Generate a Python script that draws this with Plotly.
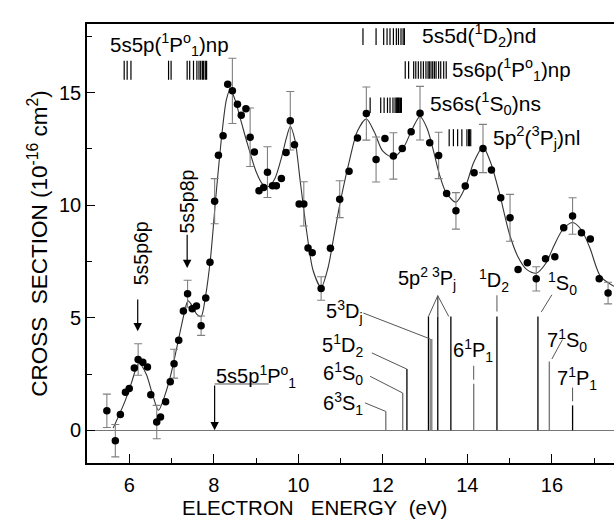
import plotly.graph_objects as go

# ---------------- data ----------------
energy = [5.47, 5.67, 5.79, 5.91, 6.00, 6.12, 6.21, 6.32, 6.43, 6.51, 6.65, 6.74, 6.86, 6.97,
          7.06, 7.17, 7.28, 7.38, 7.49, 7.59, 7.70, 7.81, 7.91, 8.02, 8.11, 8.22, 8.33, 8.44,
          8.56, 8.65, 8.76, 8.86, 8.96, 9.07, 9.18, 9.27, 9.39, 9.48, 9.60, 9.71, 9.81, 9.91,
          10.02, 10.13, 10.23, 10.33, 10.54, 10.76, 10.98, 11.20, 11.40, 11.61, 11.84, 12.05,
          12.25, 12.46, 12.67, 12.88, 13.11, 13.32, 13.51, 13.73, 13.95, 14.16, 14.37, 14.57,
          14.79, 15.01, 15.20, 15.42, 15.63, 15.85, 16.07, 16.28, 16.49, 16.70, 16.91, 17.12, 17.33]
cross = [0.87, -0.46, 0.70, 1.69, 1.86, 2.77, 3.15, 3.03, 2.81, 1.58, 0.37, 0.59, 1.27, 2.16,
         2.96, 4.00, 5.30, 6.07, 5.40, 5.52, 4.65, 5.88, 7.47, 10.18, 12.22, 13.09, 15.37, 15.08,
         14.49, 14.00, 14.28, 13.02, 12.36, 10.64, 10.79, 11.47, 10.86, 10.86, 11.19, 12.34, 13.75, 12.69,
         10.05, 10.06, 8.10, 7.89, 6.30, 8.09, 10.27, 11.51, 12.99, 14.07, 12.03, 12.96,
         12.19, 12.52, 13.26, 14.09, 12.77, 12.21, 10.52, 9.75, 10.85, 11.44, 12.52, 11.57,
         10.33, 9.44, 7.15, 7.45, 6.73, 7.62, 7.71, 9.00, 9.52, 8.78, 8.50, 6.73, 6.10]
error = [0.74, 0.72, None, None, None, None, 0.70, None, None, None, 0.74, None, None, None,
         0.64, None, None, 0.60, None, None, 0.43, None, None, 1.00, None, None, None, 1.45,
         None, None, None, 1.30, None, None, None, 1.13, None, None, None, None, 1.30, None,
         None, 0.98, None, None, 0.52, None, 0.82, None, None, 1.18, 1.00, None,
         1.03, None, None, 1.19, None, 1.03, None, 0.81, None, None, 1.07, None,
         None, 1.04, None, None, 0.54, None, None, None, 0.81, None, None, None, 0.48]

fit_x = [5.62, 5.90, 6.05, 6.23, 6.40, 6.55, 6.69, 6.85, 7.00, 7.15, 7.30, 7.39, 7.50, 7.60, 7.70,
         7.80, 7.92, 8.05, 8.20, 8.30, 8.39, 8.50, 8.65, 8.80, 9.00, 9.15, 9.30, 9.45, 9.60, 9.72,
         9.81, 9.92, 10.05, 10.20, 10.35, 10.54, 10.70, 10.85, 11.00, 11.20, 11.40, 11.61, 11.80,
         12.00, 12.25, 12.50, 12.70, 12.88, 13.05, 13.20, 13.35, 13.50, 13.73, 13.95, 14.15, 14.37,
         14.55, 14.75, 15.00, 15.20, 15.40, 15.63, 15.85, 16.05, 16.25, 16.49, 16.70, 16.90, 17.15, 17.47]
fit_y = [0.10, 1.30, 2.10, 2.99, 2.50, 1.60, 0.89, 1.60, 2.60, 3.90, 5.20, 5.75, 5.50, 5.15, 5.06,
         5.90, 7.60, 10.40, 13.30, 14.70, 15.15, 14.70, 13.70, 12.70, 11.50, 10.95, 10.83, 11.20, 12.10, 13.00,
         13.50, 12.90, 11.00, 8.80, 7.10, 6.35, 7.20, 8.70, 10.20, 11.90, 13.30, 13.83, 13.25,
         12.40, 12.13, 12.60, 13.40, 13.94, 13.40, 12.40, 11.30, 10.55, 10.14, 10.80, 11.90, 12.58,
         11.90, 10.60, 8.70, 7.70, 7.15, 6.98, 7.40, 8.20, 8.90, 9.23, 8.90, 8.10, 6.84, 6.40]

# Rydberg series markers (eV)
ser_5s5p_np = [5.88, 5.95, 6.04, 6.93, 6.99, 7.37, 7.43, 7.52, 7.60, 7.65, 7.69, 7.73, 7.76, 7.80, 7.83]
ser_5s5d_nd = [11.53, 11.84, 12.02, 12.10, 12.17, 12.25, 12.32, 12.37, 12.43, 12.48, 12.51]
ser_5s6p_np = [12.53, 12.61, 12.73, 12.78, 12.84, 12.90, 12.96, 13.02, 13.07, 13.10, 13.14, 13.18,
               13.22, 13.26, 13.32, 13.37, 13.44, 13.50]
ser_5s6s_ns = [11.70, 11.95, 12.03, 12.11, 12.17, 12.24, 12.29, 12.32, 12.35, 12.37, 12.39, 12.42, 12.44]
ser_5p2_nl = [13.57, 13.67, 13.77, 13.87, 13.99, 14.03, 14.05, 14.08]

# atomic levels (eV)
lvl_black = [12.57, 13.08, 13.30, 13.61, 14.70, 15.67, 16.49]
lvl_gray = [12.07, 12.47, 13.14, 14.15, 15.94]
threshold_5s5p = 8.02

# ---------------- figure ----------------
FONT = "Liberation Sans, Arial, sans-serif"
fig = go.Figure()

# series tick groups
def add_bars(xs, y0, y1, width=1.2):
    bx, by = [], []
    for v in xs:
        bx += [v, v, None]
        by += [y0, y1, None]
    fig.add_trace(go.Scatter(x=bx, y=by, mode="lines", line=dict(color="black", width=width),
                             hoverinfo="skip", showlegend=False))

add_bars(ser_5s5p_np, 15.57, 16.42)
add_bars(ser_5s5d_nd, 17.12, 17.86)
add_bars(ser_5s6p_np, 15.62, 16.40)
add_bars(ser_5s6s_ns, 14.10, 14.78)
add_bars(ser_5p2_nl, 12.62, 13.38)

# level lines
lvl_top = {12.57: 2.72, 13.08: 5.06, 13.30: 5.06, 13.61: 5.06, 14.70: 5.06, 15.67: 5.06, 16.49: 1.11,
           12.07: 0.84, 12.47: 1.66, 13.14: 4.06, 14.15: 2.07, 15.94: 3.06}
def add_levels(xs, color, width):
    bx, by = [], []
    for v in xs:
        bx += [v, v, None]
        by += [0, lvl_top[v], None]
    fig.add_trace(go.Scatter(x=bx, y=by, mode="lines", line=dict(color=color, width=width),
                             hoverinfo="skip", showlegend=False))

add_levels(lvl_gray, "#7a7a7a", 1.4)
add_levels(lvl_black, "black", 1.3)
# thick gray 5^3D_j band
fig.add_trace(go.Scatter(x=[13.14, 13.14], y=[0, 4.06], mode="lines",
                         line=dict(color="#8a8a8a", width=3), hoverinfo="skip", showlegend=False))

# leader lines for level labels
leaders = [
    ([11.54, 13.12], [5.21, 4.06]),
    ([11.74, 12.57], [3.44, 2.72]),
    ([11.70, 12.47], [2.40, 1.66]),
    ([11.58, 12.07], [1.22, 0.84]),
    ([13.08, 13.30, 13.30, 13.30, 13.56], [5.06, 5.98, 5.06, 5.98, 5.06]),
    ([14.70, 14.70], [6.00, 5.28]),
    ([14.15, 14.15], [2.87, 2.25]),
    ([16.00, 15.75], [6.02, 5.26]),
    ([16.25, 16.00], [4.03, 3.17]),
    ([16.49, 16.49], [1.90, 1.29]),
    ([threshold_5s5p, 9.30], [2.06, 2.06]),
]
for lx, ly in leaders:
    fig.add_trace(go.Scatter(x=lx, y=ly, mode="lines", line=dict(color="#555555", width=1),
                             hoverinfo="skip", showlegend=False))

# fit curve
fig.add_trace(go.Scatter(x=fit_x, y=fit_y, mode="lines", line=dict(color="#333333", width=1.1, shape="spline", smoothing=0.8),
                         hoverinfo="skip", showlegend=False))

# error bars
ex = [e for e, s in zip(energy, error) if s is not None]
ey = [c for c, s in zip(cross, error) if s is not None]
es = [s for s in error if s is not None]
fig.add_trace(go.Scatter(x=ex, y=ey, mode="markers", marker=dict(size=1, opacity=0),
                         error_y=dict(type="data", array=es, visible=True, color="#808080", thickness=1.1, width=4),
                         hoverinfo="skip", showlegend=False))

# data points
fig.add_trace(go.Scatter(x=energy, y=cross, mode="markers",
                         marker=dict(color="black", size=7.5, line=dict(width=0)), showlegend=False))

# ---------------- annotations ----------------
def txt(x, y, s, size=19, xanchor="left", yanchor="middle", angle=0):
    fig.add_annotation(x=x, y=y, xref="x", yref="y", text=s, showarrow=False, xanchor=xanchor,
                       yanchor=yanchor, textangle=angle, font=dict(family=FONT, size=size, color="black"))

txt(5.50, 17.12, "5s5p(<sup>1</sup>P<sup>o</sup><sub>1</sub>)np", size=20.5)
txt(12.88, 17.52, "5s5d(<sup>1</sup>D<sub>2</sub>)nd", size=21)
txt(13.59, 16.05, "5s6p(<sup>1</sup>P<sup>o</sup><sub>1</sub>)np", size=20.5)
txt(13.07, 14.50, "5s6s(<sup>1</sup>S<sub>0</sub>)ns", size=21)
txt(14.56, 13.00, "5p<sup>2</sup>(<sup>3</sup>P<sub>j</sub>)nl", size=21)

txt(11.58, 5.28, "5<sup>3</sup>D<sub>j</sub>", xanchor="right", size=20)
txt(11.58, 3.77, "5<sup>1</sup>D<sub>2</sub>", xanchor="right", size=20)
txt(11.58, 2.52, "6<sup>1</sup>S<sub>0</sub>", xanchor="right", size=20)
txt(11.58, 1.20, "6<sup>3</sup>S<sub>1</sub>", xanchor="right", size=20)
txt(13.04, 6.75, "5p<sup>2 3</sup>P<sub>j</sub>", xanchor="center", size=20)
txt(14.64, 6.65, "<sup>1</sup>D<sub>2</sub>", xanchor="center", size=20)
txt(14.14, 3.55, "6<sup>1</sup>P<sub>1</sub>", xanchor="center", size=20)
txt(16.24, 6.52, "<sup>1</sup>S<sub>0</sub>", xanchor="center", size=20)
txt(16.36, 4.00, "7<sup>1</sup>S<sub>0</sub>", xanchor="center", size=20)
txt(16.60, 2.30, "7<sup>1</sup>P<sub>1</sub>", xanchor="center", size=20)
txt(8.00, 2.38, "5s5p<sup>1</sup>P<sup>o</sup><sub>1</sub>", size=20)

txt(6.27, 7.85, "5s5p6p", angle=-90, xanchor="center", size=19.5)
txt(7.36, 10.15, "5s5p8p", angle=-90, xanchor="center", size=19.5)

def arrow(x, y_tail, y_head):
    fig.add_annotation(x=x, y=y_head, ax=x, ay=y_tail, xref="x", yref="y", axref="x", ayref="y",
                       text="", showarrow=True, arrowhead=2, arrowsize=1.4, arrowwidth=1.2, arrowcolor="black")

arrow(6.20, 5.88, 4.40)
arrow(7.37, 8.76, 7.21)
arrow(threshold_5s5p, 2.06, 0.0)

# x-axis title (placed to match the reference, left of plot centre)
fig.add_annotation(xref="paper", yref="paper", x=0.4326, y=-0.102, xanchor="center", yanchor="middle",
                   showarrow=False, text="ELECTRON&nbsp;&nbsp;&nbsp;ENERGY&nbsp;&nbsp;(eV)",
                   font=dict(family=FONT, size=20.5, color="black"))

# ---------------- axes ----------------
fig.update_xaxes(range=[5.0, 17.47], tickvals=[6, 8, 10, 12, 14, 16], ticks="inside", ticklen=9,
                 tickwidth=1.3, tickcolor="black", showline=True, linecolor="black", linewidth=1.6,
                 mirror=True, showgrid=False, zeroline=False, ticklabelstandoff=3,
                 minor=dict(dtick=1, tick0=5, ticks="inside", ticklen=5, tickwidth=1.2, tickcolor="black"),
                 tickfont=dict(family=FONT, size=20, color="black"))
fig.update_yaxes(range=[-1.45, 18.05], tickvals=[0, 5, 10, 15], ticks="inside", ticklen=8,
                 tickwidth=1.3, tickcolor="black", showline=True, linecolor="black", linewidth=1.6,
                 mirror=False, showgrid=False, zeroline=True, zerolinecolor="#777777", zerolinewidth=1,
                 minor=dict(dtick=2.5, tick0=0, ticks="inside", ticklen=5, tickwidth=1.2, tickcolor="black"),
                 tickfont=dict(family=FONT, size=20, color="black"),
                 title=dict(text="CROSS&nbsp;&nbsp;SECTION (10<sup>-16</sup> cm<sup>2</sup>)", standoff=5,
                            font=dict(family=FONT, size=22.5, color="black")))

fig.update_layout(width=614, height=519, margin=dict(l=87, r=0, t=24, b=56),
                  plot_bgcolor="white", paper_bgcolor="white", showlegend=False)

fig.write_html("out.html")
